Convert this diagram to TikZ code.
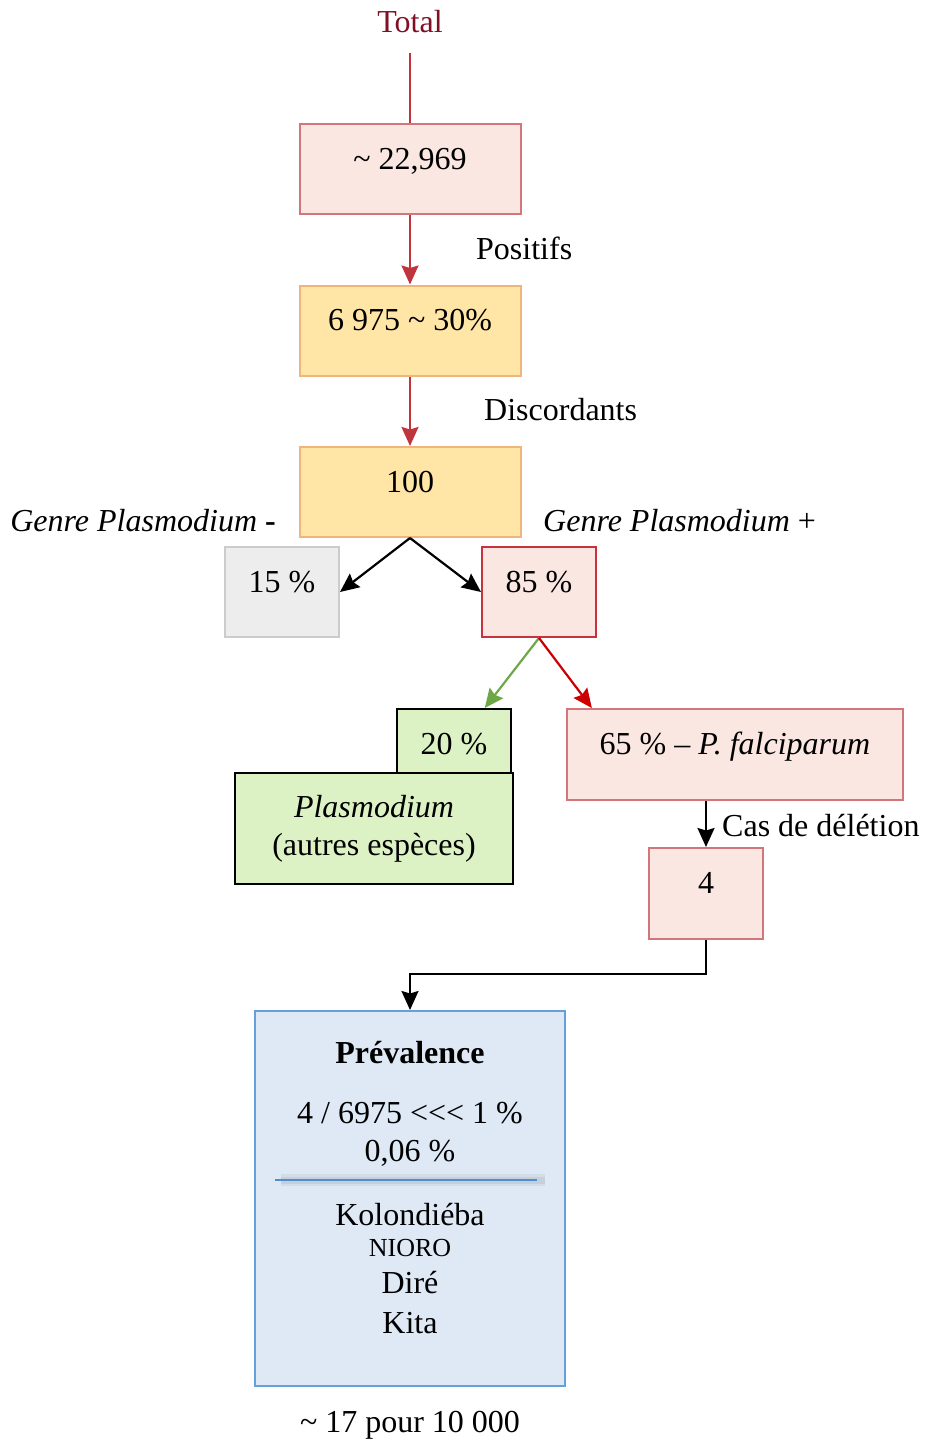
\documentclass[tikz,border=0pt]{standalone}
\usepackage{fontspec}
\setmainfont{Liberation Serif}
\usetikzlibrary{shapes,arrows.meta,positioning}
\definecolor{rougetitre}{RGB}{128,16,36}
\definecolor{rougetrait}{RGB}{192,52,62}
\definecolor{rouvif}{RGB}{204,0,0}
\definecolor{rosefond}{RGB}{251,231,226}
\definecolor{rosebord}{RGB}{210,118,124}
\definecolor{rosefort}{RGB}{200,50,60}
\definecolor{jaunefond}{RGB}{255,229,166}
\definecolor{jaunebord}{RGB}{238,182,124}
\definecolor{grisfond}{RGB}{237,237,237}
\definecolor{grisbord}{RGB}{204,204,204}
\definecolor{vertfond}{RGB}{221,242,196}
\definecolor{vertfleche}{RGB}{110,168,70}
\definecolor{bleufond}{RGB}{222,233,245}
\definecolor{bleubord}{RGB}{100,160,220}
\definecolor{bleutrait}{RGB}{80,140,210}

\begin{document}
\begin{tikzpicture}[x=1pt, y=-1pt, node distance=161.5pt, font=\fontsize{32}{38}\selectfont]

    \tikzstyle{haut} = [text height=12pt, text depth=12pt]
    \tikzstyle{boite} = [
        rectangle,
        draw,
        line width=2pt,
        text centered,
        minimum height=90pt,
    ]
    \tikzstyle{rose} = [boite, haut, fill=rosefond, draw=rosebord, minimum width=114pt]
    \tikzstyle{jaune} = [boite, haut, fill=jaunefond, draw=jaunebord, minimum width=221pt]
    \tikzstyle{gris} = [boite, haut, fill=grisfond, draw=grisbord, minimum width=114pt]
    \tikzstyle{vert} = [boite, fill=vertfond, draw=black]
    \tikzstyle{texte} = [inner sep=0pt]
    \tikzstyle{fleche} = [
        draw,
        line width=2.2pt,
        -{Stealth[length=19pt,width=17pt,inset=2.5pt]},
    ]

    \useasboundingbox (0,0) rectangle (924,1443);

    \node [texte, text=rougetitre]        (tot) at (410,22) {Total};
    \coordinate                           (totbas) at (410,53);
    \node [rose, minimum width=221pt]     (all) at (410,169) {\textasciitilde{} 22,969};
    \node [jaune, below of=all]           (posi) {6 975 \textasciitilde{} 30\%};
    \node [jaune, below of=posi]          (disc) {100};

    \draw [line width=2.2pt, rougetrait] (totbas) -- (all);
    \path [fleche, rougetrait] (all) -- (posi);
    \path [fleche, rougetrait] (posi) -- (disc);

    \node [texte, anchor=west] (lpos) at (476,248) {Positifs};
    \node [texte, anchor=west] (ldis) at (484,410) {Discordants};

    \node [texte, anchor=east] (gmoins) at (276,521) {\textit{Genre Plasmodium} \textbf{-}};
    \node [texte, anchor=west] (gplus) at (543,521) {\textit{Genre Plasmodium} +};

    \node [gris]                          (neg) at (282,592) {15 \%};
    \node [rose, draw=rosefort]           (plus) at (539,592) {85 \%};

    \path [fleche] (disc.south) -- (neg.east);
    \path [fleche] (disc.south) -- (plus.west);

    \node [vert, minimum width=114pt, minimum height=64pt,
        text height=26pt, text depth=0pt] (autre) at (454,741) {20 \%};
    \node [vert, minimum width=278pt, minimum height=111pt,
        align=center]                     (plasm) at (374,828.5)
        {\textit{Plasmodium}\\(autres espèces)};
    \node [rose, minimum width=336pt, minimum height=91pt] (falc) at (735,754.5)
        {65 \% -- \textit{P. falciparum}};

    \path [fleche, vertfleche] (plus.south) -- (autre.47);
    \path [fleche, rouvif] (plus.south) -- (falc.162);

    \node [rose, minimum height=91pt]     (del) at (706,893.5) {4};
    \path [fleche] (falc.south -| del) -- (del);
    \node [texte, anchor=west] (ldel) at (722,826) {Cas de délétion};

    \node [boite, fill=bleufond, draw=bleubord, minimum width=310pt,
        minimum height=375pt]             (prev) at (410,1198.5) {};
    \path [fleche] (del.south) -- ++(0,34) -| (prev.north);

    \node [texte] (ptitre) at (410,1053) {\textbf{Prévalence}};
    \node [texte] (prap)   at (410,1113) {4 / 6975 <{}<{}< 1 \%};
    \node [texte] (ppct)   at (410,1153) {0,06 \%};
    \coordinate (sepg) at (275,1180);
    \coordinate (sepd) at (537,1180);
    \draw [line width=12pt, black, opacity=0.05] ([xshift=6pt]sepg) -- ([xshift=8pt]sepd);
    \draw [line width=7pt, black, opacity=0.06] ([xshift=6pt]sepg) -- ([xshift=8pt]sepd);
    \draw [line width=2pt, bleutrait] (sepg) -- (sepd);
    \node [texte] (kol)    at (410,1215) {Kolondiéba};
    \node [texte, font=\fontsize{26}{30}\selectfont] (nio) at (410,1248) {NIORO};
    \node [texte] (dir)    at (410,1283) {Diré};
    \node [texte] (kit)    at (410,1323) {Kita};

    \node [texte] (pdix) at (410,1425) {\textasciitilde{} 17 pour 10 000};

\end{tikzpicture}
\end{document}
